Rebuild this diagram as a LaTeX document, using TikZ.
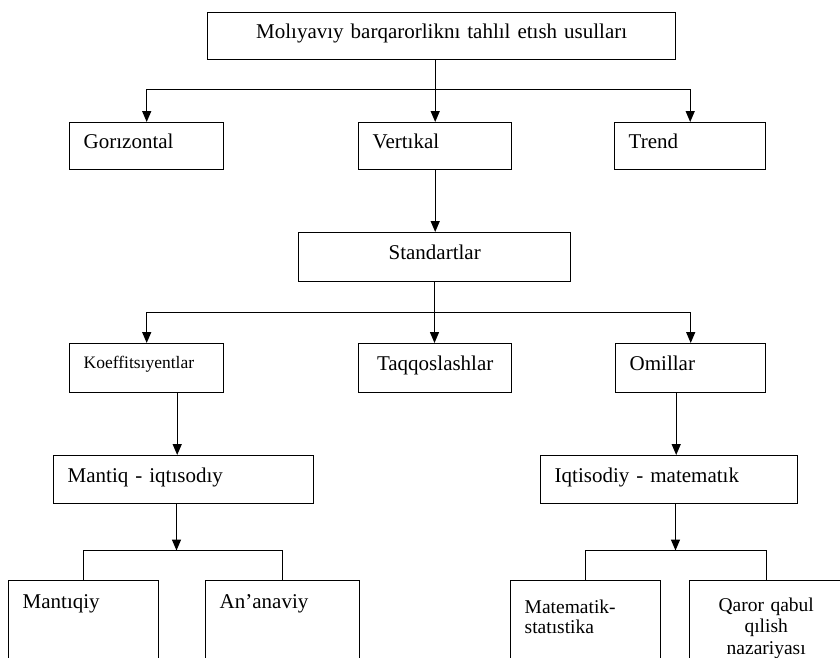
\documentclass[tikz,border=0pt]{standalone}
\usepackage{fontspec}
\setmainfont{Liberation Serif}
\usetikzlibrary{arrows.meta}

\tikzset{
  box/.style={draw, line width=1.4pt, anchor=north west, inner xsep=14pt, inner ysep=0pt,
    align=left, text height=15pt, text depth=10pt, font=\fontsize{21}{25}\selectfont},
  midbox/.style={box, align=center},
  lowbox/.style={draw, line width=1.4pt, anchor=north west, inner xsep=14pt, inner ysep=14pt,
    align=left, text depth=80pt, font=\fontsize{21}{25}\selectfont},
  arr/.style={line width=1.4pt, -{Triangle[length=11pt,width=9pt]}},
  link/.style={line width=1.4pt}
}

\begin{document}
\begin{tikzpicture}[x=1pt,y=-1pt]
  \useasboundingbox (0,0) rectangle (840,657);
  % top level
  \node[midbox, minimum width=468pt, minimum height=47pt, text width=440pt] (usul) at (207,12) {Molıyavıy barqarorliknı tahlıl etısh usulları};
  \node[box, minimum width=154pt, minimum height=47pt, text width=126pt] (goriz) at (69,122) {Gorızontal};
  \node[box, minimum width=153pt, minimum height=47pt, text width=125pt] (vert) at (358,122) {Vertıkal};
  \node[box, minimum width=151pt, minimum height=47pt, text width=123pt] (trend) at (614,122) {Trend};
  \node[midbox, minimum width=272pt, minimum height=49pt, text width=244pt] (stand) at (298,232) {Standartlar};
  % second level
  \node[box, font=\fontsize{17.5}{21}\selectfont, text height=12pt, text depth=11pt,
    minimum width=154pt, minimum height=49pt, text width=126pt] (koef) at (69,343) {Koeffitsıyentlar};
  \node[midbox, minimum width=153pt, minimum height=49pt, text width=125pt] (taqq) at (358,343) {Taqqoslashlar};
  \node[box, minimum width=150pt, minimum height=49pt, text width=122pt] (omil) at (615,343) {Omillar};
  \node[box, minimum width=260pt, minimum height=48pt, text width=232pt] (mantiq) at (53,455) {Mantiq - iqtısodıy};
  \node[box, minimum width=257pt, minimum height=48pt, text width=229pt] (iqtis) at (540,455) {Iqtisodiy - matematık};
  % bottom level
  \node[lowbox, text height=14pt, minimum width=150pt, text width=122pt] (mantiqiy) at (8,580) {Mantıqiy};
  \node[lowbox, text height=14pt, minimum width=154pt, text width=126pt] (anan) at (205,580) {An'anaviy};
  \node[lowbox, inner ysep=19pt, font=\fontsize{19.5}{20}\selectfont, minimum width=150pt, text width=122pt] (matem) at (510,580) {Matematik-\\statıstika};
  \node[lowbox, align=center, inner ysep=17pt, font=\fontsize{19.5}{21.5}\selectfont,
    minimum width=153pt, text width=125pt] (qaror) at (689,580) {Qaror qabul\\qılish\\nazariyası};

  \coordinate (b1) at (434.5,89.5);
  \coordinate (b2) at (434.5,312.5);
  \coordinate (b3) at (176.5,550.5);
  \coordinate (b4) at (675.5,550.5);

  \draw[arr] (usul.south -| vert.north) -- (vert.north);
  \draw[arr] (b1) -| (goriz.north);
  \draw[arr] (b1) -| (trend.north);
  \draw[arr] (vert.south) -- (vert.south |- stand.north);
  \draw[link] (stand.south -| b2) -- (b2);
  \draw[arr] (b2) -- (b2 |- taqq.north);
  \draw[arr] (b2) -| (koef.north);
  \draw[arr] (b2) -| (omil.north);
  \draw[arr] ([xshift=30.5pt]koef.south) -- ([xshift=30.5pt]koef.south |- mantiq.north);
  \draw[arr] ([xshift=-14.5pt]omil.south) -- ([xshift=-14.5pt]omil.south |- iqtis.north);
  \draw[arr] (mantiq.south -| b3) -- (b3);
  \draw[link] (mantiqiy.north) |- (b3) -| (anan.north);
  \draw[arr] (iqtis.south -| b4) -- (b4);
  \draw[link] (matem.north) |- (b4) -| (qaror.north);
\end{tikzpicture}
\end{document}
